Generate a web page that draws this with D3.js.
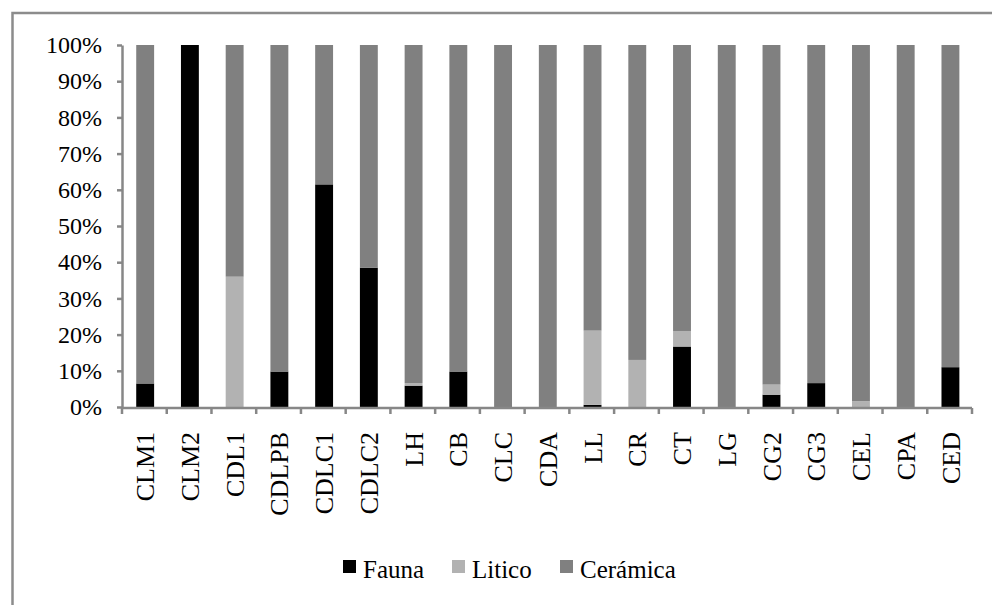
<!DOCTYPE html>
<html>
<head>
<meta charset="utf-8">
<script src="https://cdn.jsdelivr.net/npm/d3@7"></script>
<style>
  body { margin: 0; background: #fff; }
  text { font-family: "Liberation Serif", "Times New Roman", serif; fill: #000; }
</style>
</head>
<body>
<svg id="chart" width="992" height="605"></svg>
<script>
// categories and % shares
const sites = ["CLM1", "CLM2", "CDL1", "CDLPB", "CDLC1", "CDLC2", "LH", "CB", "CLC", "CDA",
  "LL", "CR", "CT", "LG", "CG2", "CG3", "CEL", "CPA", "CED"];
const fauna = [6.5, 100, 0, 9.8, 61.5, 38.5, 5.9, 9.8, 0, 0, 0.6, 0, 16.7, 0, 3.4, 6.6, 0, 0, 11];
const litico = [0, 0, 36, 0, 0, 0, 0.7, 0, 0, 0, 20.5, 13, 4.3, 0, 2.8, 0, 1.6, 0, 0];
const seriesNames = ["Fauna", "Litico", "Cerámica"];
const seriesColors = ["#000000", "#b2b2b2", "#808080"];
const yTicks = [0, 10, 20, 30, 40, 50, 60, 70, 80, 90, 100];

const svg = d3.select("#chart");
const axisColor = "#878787";

// outer chart border (cut by the window at right and bottom)
svg.append("rect")
  .attr("x", 12.5).attr("y", 13)
  .attr("width", 1000).attr("height", 620)
  .attr("fill", "none")
  .attr("stroke", "#8c8c8c")
  .attr("stroke-width", 2.5);

const plotLeft = 122, plotRight = 972, plotTop = 45, plotBottom = 407;

const x = d3.scaleBand().domain(sites).range([plotLeft, plotRight])
  .paddingInner(0.6).paddingOuter(0.3);
const y = d3.scaleLinear().domain([0, 100]).range([plotBottom, plotTop]);

// build stack rows
const rows = sites.map((s, i) => ({
  site: s,
  Fauna: fauna[i],
  Litico: litico[i],
  "Cerámica": 100 - fauna[i] - litico[i]
}));
const stacked = d3.stack().keys(seriesNames)(rows);

svg.selectAll("g.layer")
  .data(stacked)
  .enter()
  .append("g")
  .attr("class", "layer")
  .attr("fill", (d, i) => seriesColors[i])
  .selectAll("rect")
  .data((d) => d)
  .enter()
  .append("rect")
  .attr("x", (d) => x(d.data.site) + 0.8)
  .attr("y", (d) => y(d[1]))
  .attr("width", x.bandwidth())
  .attr("height", (d) => Math.max(0, y(d[0]) - y(d[1])));

// y axis
const yAxis = svg.append("g").attr("transform", `translate(${plotLeft},0)`)
  .call(d3.axisLeft(y).tickValues(yTicks).tickFormat((d) => d + "%").tickSize(5).tickSizeOuter(0))
  .attr("font-family", "Liberation Serif")
  .attr("font-size", 24);
yAxis.select(".domain").attr("stroke", axisColor).attr("stroke-width", 2.5);
yAxis.selectAll(".tick line").attr("stroke", axisColor).attr("stroke-width", 2.5);
yAxis.selectAll(".tick text")
  .attr("x", -20)
  .attr("fill", "#000");

// x axis: ticks on category boundaries
const xLine = svg.append("g").attr("transform", `translate(0,${plotBottom + 1})`);
xLine.append("line")
  .attr("x1", plotLeft).attr("x2", plotRight)
  .attr("stroke", axisColor).attr("stroke-width", 2.5);
const bounds = d3.range(sites.length + 1).map((i) => plotLeft + i * x.step());
xLine.selectAll("line.tk")
  .data(bounds)
  .enter()
  .append("line")
  .attr("class", "tk")
  .attr("x1", (d) => d).attr("x2", (d) => d)
  .attr("y1", 0).attr("y2", 6)
  .attr("stroke", axisColor).attr("stroke-width", 2.5);

svg.selectAll("text.cat")
  .data(sites)
  .enter()
  .append("text")
  .attr("class", "cat")
  .attr("transform", (d) => `translate(${x(d) + x.bandwidth() / 2 + 0.8},432) rotate(-90)`)
  .attr("text-anchor", "end")
  .attr("dy", "0.35em")
  .style("font-size", "26px")
  .text((d) => d);

// legend
const legendX = [343, 452, 560];
const legend = svg.selectAll("g.legend")
  .data(seriesNames)
  .enter()
  .append("g")
  .attr("class", "legend")
  .attr("transform", (d, i) => `translate(${legendX[i]},560)`);
legend.append("rect")
  .attr("width", 13).attr("height", 13)
  .attr("fill", (d, i) => seriesColors[i]);
legend.append("text")
  .attr("x", 20).attr("y", 18)
  .style("font-size", "25px")
  .text((d) => d);
</script>
</body>
</html>
